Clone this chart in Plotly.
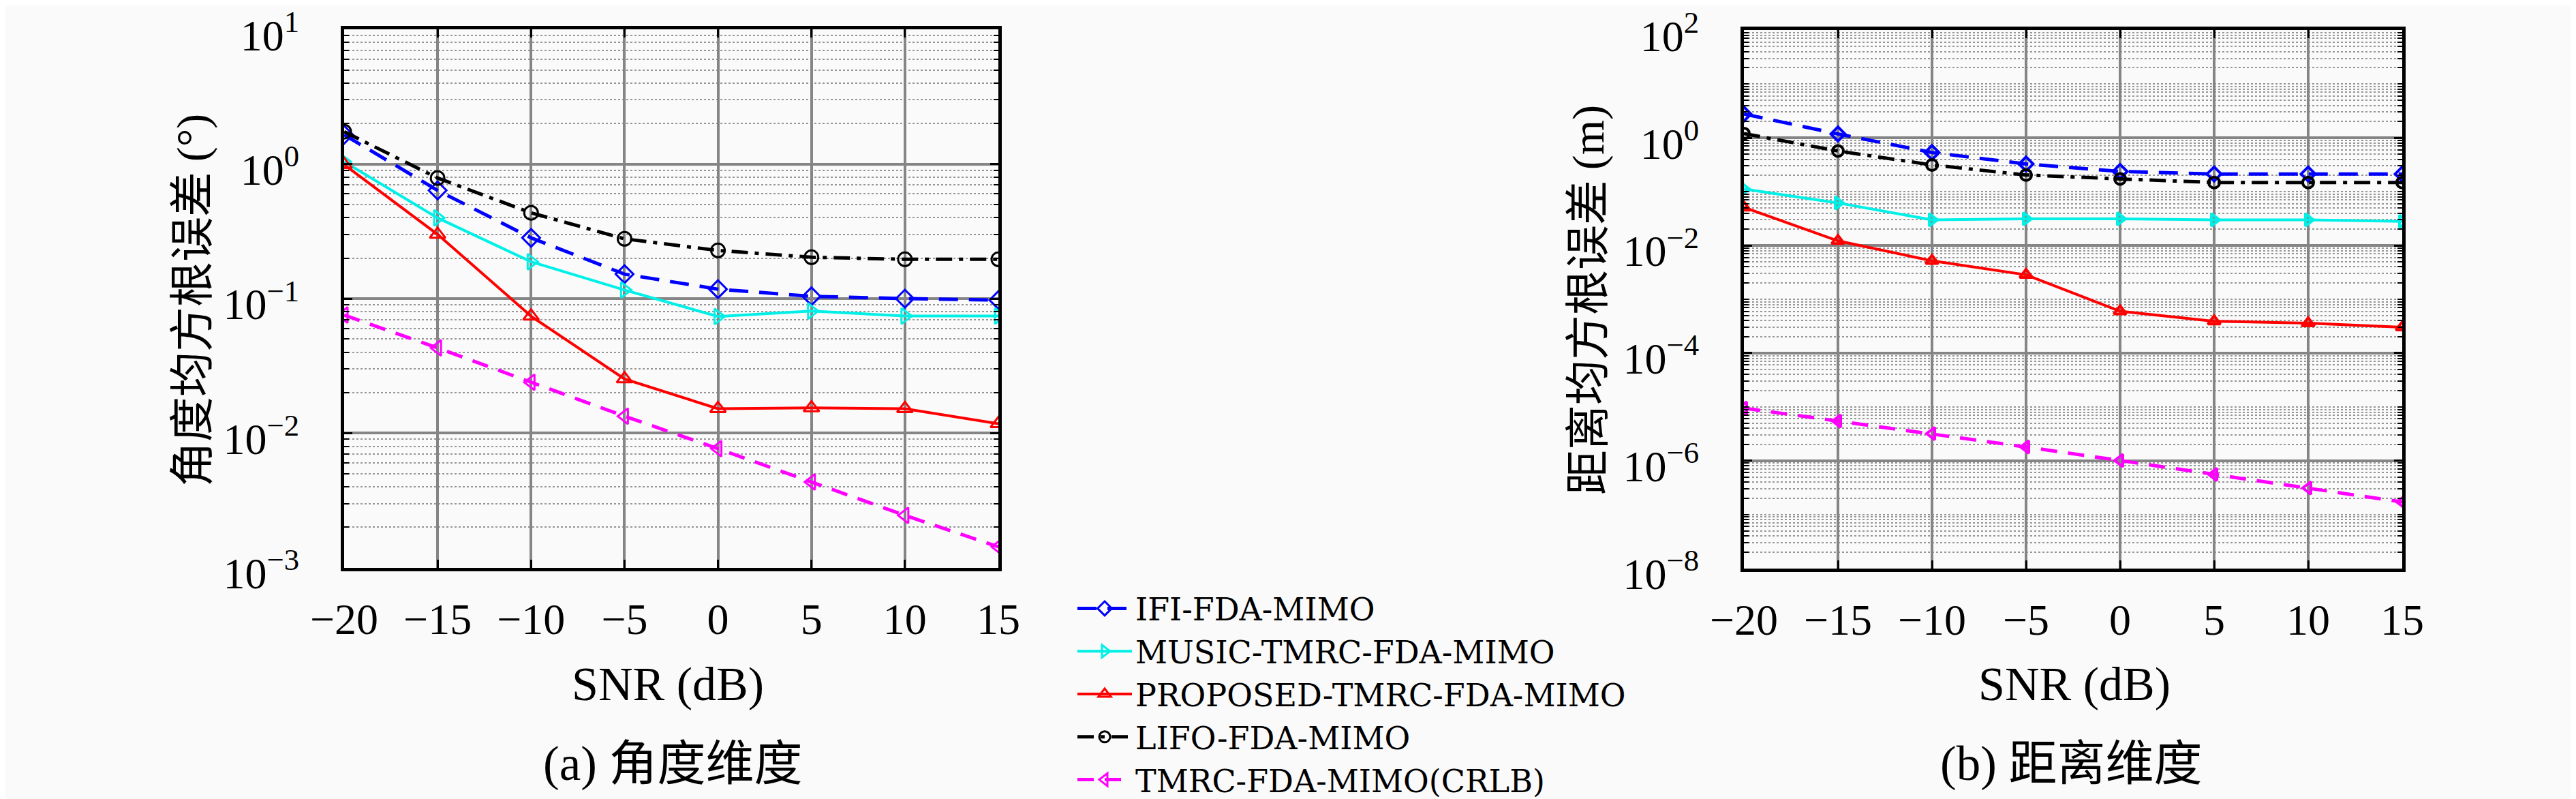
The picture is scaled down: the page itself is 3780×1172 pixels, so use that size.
import plotly.graph_objects as go

snr = [-20, -15, -10, -5, 0, 5, 10, 15]
x_tick_vals = [-20, -15, -10, -5, 0, 5, 10, 15]
x_tick_text = ["−20", "−15", "−10", "−5", "0", "5", "10", "15"]

series_names = ["IFI-FDA-MIMO", "MUSIC-TMRC-FDA-MIMO", "PROPOSED-TMRC-FDA-MIMO",
                "LIFO-FDA-MIMO", "TMRC-FDA-MIMO(CRLB)"]

# (a) angle RMSE (deg)
ang_ifi = [1.65, 0.637, 0.283, 0.152, 0.1175, 0.104, 0.100, 0.0975]
ang_music = [1.04, 0.398, 0.188, 0.116, 0.0736, 0.0808, 0.0742, 0.0742]
ang_prop = [0.99, 0.30, 0.074, 0.0253, 0.0152, 0.0154, 0.0152, 0.01175]
ang_lifo = [1.74, 0.787, 0.434, 0.278, 0.228, 0.203, 0.196, 0.196]
ang_crlb = [0.0755, 0.043, 0.0239, 0.01337, 0.00767, 0.00434, 0.00245, 0.00143]

# (b) range RMSE (m)
rng_ifi = [2.77, 1.18, 0.533, 0.327, 0.237, 0.213, 0.213, 0.213]
rng_music = [0.112, 0.0617, 0.0299, 0.0312, 0.0312, 0.0299, 0.0299, 0.028]
rng_prop = [0.0509, 0.01217, 0.00518, 0.00285, 0.000599, 0.000391, 0.000359, 0.000303]
rng_lifo = [1.20, 0.569, 0.313, 0.204, 0.172, 0.148, 0.148, 0.148]
rng_crlb = [9.5e-6, 5.46e-6, 3.2e-6, 1.8e-6, 1.01e-6, 5.55e-7, 3.12e-7, 1.71e-7]

ang_tick_vals = [1e-3, 1e-2, 1e-1, 1e0, 1e1]
ang_tick_text = ["10<sup>−3</sup>", "10<sup>−2</sup>", "10<sup>−1</sup>", "10<sup>0</sup>", "10<sup>1</sup>"]
rng_tick_vals = [1e-8, 1e-6, 1e-4, 1e-2, 1e0, 1e2]
rng_tick_text = ["10<sup>−8</sup>", "10<sup>−6</sup>", "10<sup>−4</sup>", "10<sup>−2</sup>", "10<sup>0</sup>", "10<sup>2</sup>"]

styles = [
    dict(color="#0000FF", dash="28px,16px", symbol="diamond-open", width=5),
    dict(color="#00F0E8", dash="solid", symbol="triangle-right-open", width=4),
    dict(color="#FF0000", dash="solid", symbol="triangle-up-open", width=4),
    dict(color="#000000", dash="24px,10px,6px,10px", symbol="circle-open", width=5),
    dict(color="#FF00FF", dash="24px,16px", symbol="triangle-left-open", width=5),
]

fig = go.Figure()
ang_data = [ang_ifi, ang_music, ang_prop, ang_lifo, ang_crlb]
rng_data = [rng_ifi, rng_music, rng_prop, rng_lifo, rng_crlb]

for i, (name, st) in enumerate(zip(series_names, styles)):
    fig.add_trace(go.Scatter(
        x=snr, y=ang_data[i], name=name, mode="lines+markers",
        line=dict(color=st["color"], width=st["width"], dash=st["dash"]),
        marker=dict(symbol=st["symbol"], size=20, color=st["color"],
                    line=dict(width=3, color=st["color"])),
        xaxis="x", yaxis="y", showlegend=True))
for i, (name, st) in enumerate(zip(series_names, styles)):
    fig.add_trace(go.Scatter(
        x=snr, y=rng_data[i], name=name, mode="lines+markers",
        line=dict(color=st["color"], width=st["width"], dash=st["dash"]),
        marker=dict(symbol=st["symbol"], size=16, color=st["color"],
                    line=dict(width=4, color=st["color"])),
        xaxis="x2", yaxis="y2", showlegend=False))

def minor_vals(lo, hi):
    vals = []
    for e in range(lo, hi):
        for k in range(1, 10):
            vals.append(k * 10.0 ** e)
    return vals

FONT = "Liberation Serif, DejaVu Serif, serif"
LEGFONT = "DejaVu Serif, Liberation Serif, serif"
CJK = "Noto Sans CJK SC"

common_x = dict(
    tickmode="array", tickvals=x_tick_vals, ticktext=x_tick_text,
    range=[-20, 15], showgrid=True, gridcolor="#858585", gridwidth=4,
    zeroline=False, showline=True, linecolor="black", linewidth=5, mirror="ticks",
    ticks="inside", ticklen=12, tickwidth=3, tickcolor="black",
    tickfont=dict(family=FONT, size=64, color="black"),
    ticklabelstandoff=15, automargin=False, ticklabeloverflow="allow",
)
common_y = dict(
    type="log", tickmode="array", showgrid=True, gridcolor="#858585", gridwidth=4,
    zeroline=False, showline=True, linecolor="black", linewidth=5, mirror="ticks",
    ticks="inside", ticklen=12, tickwidth=3, tickcolor="black",
    tickfont=dict(family=FONT, size=64, color="black"),
    ticklabelstandoff=48, ticklabelshift=8, automargin=False, ticklabeloverflow="allow",
)

minor_style = dict(tickmode="array", showgrid=True, gridcolor="#969696", gridwidth=2,
                   griddash="dot", ticks="inside", ticklen=7, tickcolor="black", tickwidth=2)

fig.update_layout(
    width=3780, height=1172,
    margin=dict(l=0, r=0, t=0, b=0),
    paper_bgcolor="#FAFAFA", plot_bgcolor="#FAFAFA",
    xaxis=dict(domain=[497/3780, 1457/3780], anchor="y", **common_x),
    yaxis=dict(domain=[1-842/1172, 1-36/1172], anchor="x", range=[-3, 1],
               tickvals=ang_tick_vals, ticktext=ang_tick_text,
               minor=dict(tickvals=minor_vals(-3, 1), **minor_style),
               **common_y),
    xaxis2=dict(domain=[2551/3780, 3517/3780], anchor="y2", **common_x),
    yaxis2=dict(domain=[1-843/1172, 1-37/1172], anchor="x2", range=[-8, 2],
                tickvals=rng_tick_vals, ticktext=rng_tick_text,
                minor=dict(tickvals=minor_vals(-8, 2), **minor_style),
                **common_y),
    legend=dict(x=1568/3780, y=1-866/1172, xanchor="left", yanchor="top",
                bgcolor="rgba(0,0,0,0)", borderwidth=0,
                font=dict(family=LEGFONT, size=46, color="black"),
                itemwidth=80, tracegroupgap=0),
    showlegend=True,
)

SERIF_SPAN = '<span style="font-family:Liberation Serif">{}</span>'
annos = [
    dict(text="SNR (dB)", x=972/3780, y=1-1016/1172, font=dict(family=FONT, size=70)),
    dict(text="SNR (dB)", x=3036/3780, y=1-1016/1172, font=dict(family=FONT, size=70)),
    dict(text=SERIF_SPAN.format("(a) ") + "角度维度", x=979/3780, y=1-1128/1172,
         font=dict(family=CJK, size=71)),
    dict(text=SERIF_SPAN.format("(b) ") + "距离维度", x=3031/3780, y=1-1128/1172,
         font=dict(family=CJK, size=71)),
    dict(text="角度均方根误差 " + SERIF_SPAN.format("(°)"), x=268/3780, y=1-442/1172,
         textangle=-90, font=dict(family=CJK, size=66)),
    dict(text="距离均方根误差 " + SERIF_SPAN.format("(m)"), x=2316/3780, y=1-441/1172,
         textangle=-90, font=dict(family=CJK, size=66)),
]
for a in annos:
    fig.add_annotation(xref="paper", yref="paper", showarrow=False,
                       xanchor="center", yanchor="middle",
                       font_color="black", **a)

fig.write_html("out.html")
